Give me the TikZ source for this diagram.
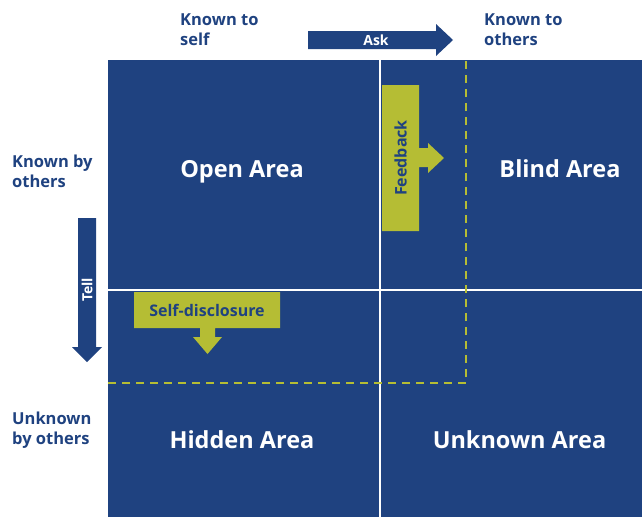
\documentclass[tikz,border=0pt]{standalone}
\usepackage{fontspec}
\setmainfont{Open Sans}
\definecolor{jblue}{RGB}{31,66,128}
\definecolor{jyellow}{RGB}{181,189,52}
\begin{document}
\begin{tikzpicture}[x=1pt,y=-1pt,
  side/.style={font=\bfseries\fontsize{16.5}{20}\selectfont, text=jblue, align=left, anchor=base west, inner sep=0pt},
  area/.style={font=\bfseries\fontsize{23.5}{26}\selectfont, text=white, inner sep=0pt, anchor=base},
  arrowlabel/.style={font=\bfseries\fontsize{14}{16}\selectfont, text=white, inner sep=0pt},
  boxlabel/.style={font=\bfseries\fontsize{16}{18}\selectfont, text=jblue, inner sep=0pt}]
\useasboundingbox (0,0) rectangle (642,517);
% main blue area
\fill[jblue] (108,60) rectangle (642,517);
\draw[white, line width=2pt] (380,60) -- (380,517);
\draw[white, line width=2pt] (108,290) -- (642,290);
% dashed yellow boundary
\draw[jyellow, line width=2pt, dash pattern=on 8pt off 6pt] (108,383) -- (466,383) -- (466,60);
% Ask arrow
\fill[jblue] (308,31) -- (436,31) -- (436,24) -- (453,40) -- (436,56) -- (436,49) -- (308,49) -- cycle;
\node[arrowlabel] (ask) at (376,40) {Ask};
% Tell arrow
\fill[jblue] (78,218) -- (96,218) -- (96,347) -- (102,347) -- (87,362) -- (72,347) -- (78,347) -- cycle;
\node[arrowlabel, rotate=90] (tell) at (87,290) {Tell};
% Feedback
\fill[jyellow] (382,85) -- (419,85) -- (419,148) -- (428,148) -- (428,143) -- (444,158) -- (428,173) -- (428,167) -- (419,167) -- (419,231) -- (382,231) -- cycle;
\node[boxlabel, rotate=90] (feedback) at (400.5,158) {Feedback};
% Self-disclosure
\fill[jyellow] (134,292) -- (280,292) -- (280,328) -- (215,328) -- (215,337) -- (222,337) -- (207.5,354) -- (193,337) -- (200,337) -- (200,328) -- (134,328) -- cycle;
\node[boxlabel] (selfdisc) at (207,310) {Self-disclosure};
% area labels
\node[area] (open) at (242,177) {Open Area};
\node[area] (blind) at (560,177) {Blind Area};
\node[area] (hidden) at (242,448) {Hidden Area};
\node[area] (unknown) at (519.5,448) {Unknown Area};
% side labels (base anchor = last line)
\node[side] (kself) at (180,45) {Known to\\self};
\node[side] (kothers) at (484,45) {Known to\\others};
\node[side] (kby) at (12,187) {Known by\\others};
\node[side] (uby) at (12,444) {Unknown\\by others};
\end{tikzpicture}
\end{document}
